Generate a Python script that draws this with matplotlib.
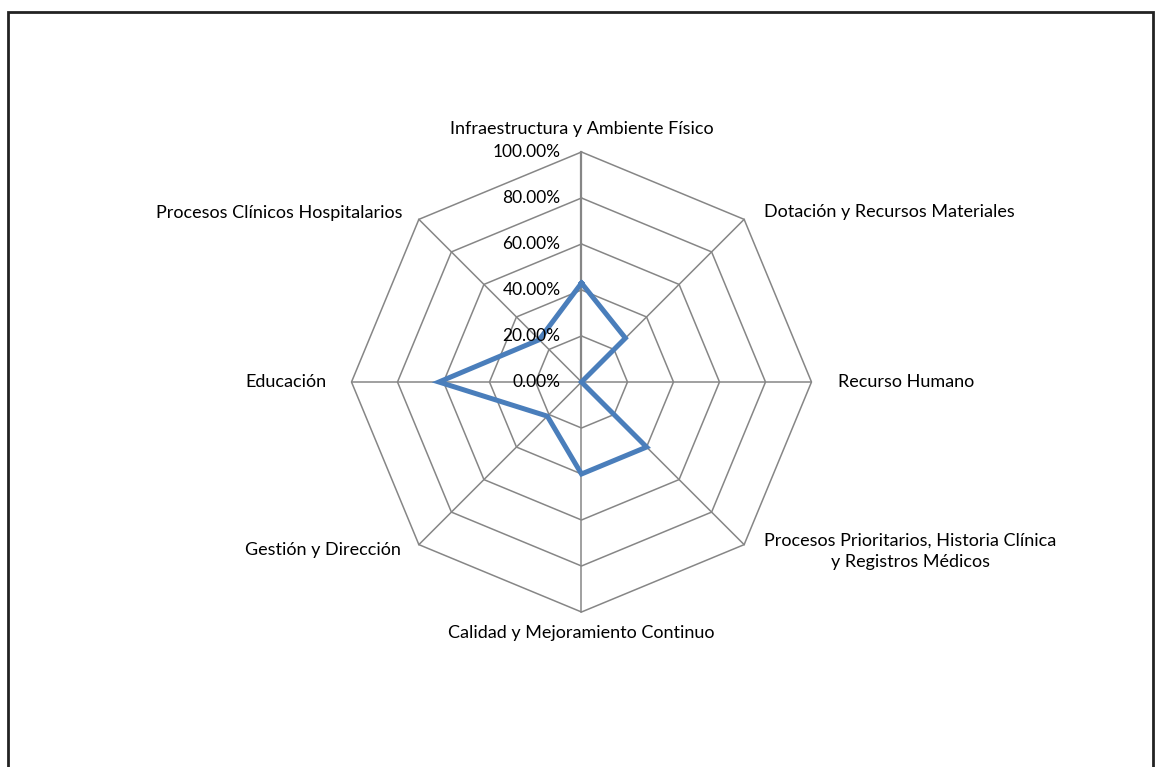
import matplotlib.pyplot as plt
import numpy as np
from matplotlib.patches import Rectangle

categories = ["Infraestructura y Ambiente Físico",
              "Dotación y Recursos Materiales",
              "Recurso Humano",
              "Procesos Prioritarios, Historia Clínica\ny Registros Médicos",
              "Calidad y Mejoramiento Continuo",
              "Gestión y Dirección",
              "Educación",
              "Procesos Clínicos Hospitalarios"]
values = [0.43, 0.27, 0.0, 0.40, 0.40, 0.21, 0.62, 0.26]
rings = [0.0, 0.2, 0.4, 0.6, 0.8, 1.0]
ring_labels = ["0.00%", "20.00%", "40.00%", "60.00%", "80.00%", "100.00%"]

# label offsets in pixels from the spoke tips, and alignment
label_pos = [((0, 23), "center", "center"),
             ((20, 7), "left", "center"),
             ((27, 0), "left", "center"),
             ((20, -7), "left", "center"),
             ((0, -21), "center", "center"),
             ((-18, -5), "right", "center"),
             ((-25, 0), "right", "center"),
             ((-16, 6), "right", "center")]

plt.rcParams['font.family'] = 'Lato'
fs = 13
fig = plt.figure(figsize=(11.61, 7.67), dpi=100)
fig.patches.append(Rectangle((8 / 1161, -0.01), 1145 / 1161, (767 - 12 + 8) / 767,
                             transform=fig.transFigure, fill=False,
                             edgecolor='#222222', linewidth=2))

cx, cy, R = 581.5 / 1161, (767 - 382) / 767, 230
ax = fig.add_axes([cx - R / 1161, cy - R / 767, 2 * R / 1161, 2 * R / 767],
                  projection='polar')
ax.set_theta_zero_location('N')
ax.set_theta_direction(-1)
ax.set_ylim(0, 1)
ax.axis('off')

n = len(categories)
theta = np.arange(n) * 2 * np.pi / n
tc = np.append(theta, theta[0])

grey = '#868686'
for r in rings[1:]:
    ax.plot(tc, [r] * (n + 1), color=grey, lw=1.1, clip_on=False)
for t in theta:
    ax.plot([t, t], [0, 1], color=grey, lw=1.1, clip_on=False)
ax.plot([0, 0], [0, 1], color=grey, lw=1.6, clip_on=False)

ax.plot(tc, values + values[:1], color='#4A7EBB', lw=3.6, clip_on=False,
        solid_joinstyle='miter', zorder=5)

for r, lab in zip(rings, ring_labels):
    ax.annotate(lab, (0, r), xytext=(-21, 0), textcoords='offset pixels',
                ha='right', va='center', fontsize=12.5, zorder=6)

for t, lab, (off, ha, va) in zip(theta, categories, label_pos):
    ax.annotate(lab, (t, 1.0), xytext=off, textcoords='offset pixels',
                ha=ha, va=va, multialignment='center', fontsize=fs,
                linespacing=1.4)

plt.savefig("out.png", dpi=100)
